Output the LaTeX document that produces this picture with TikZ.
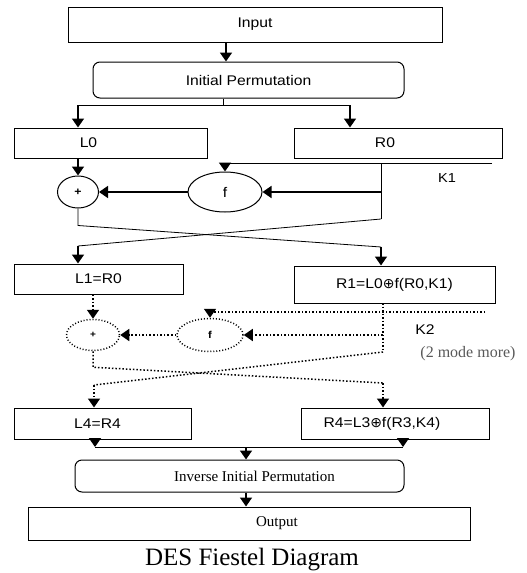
\documentclass[tikz,border=0pt]{standalone}
\usepackage{fontspec}
\setmainfont{Liberation Serif}
\setsansfont{Liberation Sans}[FakeStretch=1.12]
\newfontfamily\opfont{DejaVu Sans}
\usetikzlibrary{arrows.meta,shapes.geometric}
\tikzset{
  box/.style={draw,line width=1pt,inner sep=2pt,font=\sffamily\fontsize{14}{16}\selectfont},
  rbox/.style={box,rounded corners=7pt},
  oval/.style={draw,ellipse,line width=1pt,inner sep=0pt},
  dotoval/.style={oval,dotted,line width=1.5pt},
  arr/.style={line width=1.6pt,-{Triangle[width=12pt,length=9pt]}},
  darr/.style={arr,dotted},
  thinline/.style={line width=0.8pt},
  dotline/.style={line width=1.5pt,dotted}
}
\newcommand{\xorop}{{\opfont ⊕}}
\begin{document}
\begin{tikzpicture}[x=1pt,y=-1pt]
\useasboundingbox (0,0) rectangle (527,573);
\node[box,minimum width=374,minimum height=35] (in) at (255,24.5) {Input};
\node[rbox,minimum width=311,minimum height=36] (ip) at (248.5,80) {Initial Permutation};
\node[box,minimum width=193,minimum height=30] (L0) at (110.5,143) {L0\hspace*{44pt}};
\node[box,minimum width=208,minimum height=30] (R0) at (398,143) {R0\hspace*{26pt}};
\node[oval,minimum width=41,minimum height=32,font=\sffamily\bfseries\fontsize{11}{11}\selectfont] (x1) at (78,192) {+};
\node[oval,minimum width=74,minimum height=40,font=\sffamily\fontsize{14}{14}\selectfont] (f1) at (225,192) {f};
\node[font=\sffamily\fontsize{13}{13}\selectfont] (k1) at (447,178) {K1};

\node[box,minimum width=169,minimum height=30] (L1) at (98.5,279) {L1=R0};
\node[box,minimum width=201,minimum height=37] (R1) at (394.5,284.5) {R1=L0\xorop f(R0,K1)};
\node[dotoval,minimum width=53,minimum height=31,font=\sffamily\bfseries\fontsize{9}{9}\selectfont] (x2) at (93,335) {+};
\node[dotoval,minimum width=66,minimum height=33,font=\sffamily\bfseries\fontsize{10}{10}\selectfont] (f2) at (210,335) {f};
\node[font=\sffamily\fontsize{14}{14}\selectfont] (k2) at (425,330) {K2};
\node[font=\rmfamily\fontsize{16}{16}\selectfont,text=black!65] (more) at (468,354) {(2 mode more)};

\node[box,minimum width=177,minimum height=31] (L4) at (102.5,423.5) {L4=R4\hspace*{10pt}};
\node[box,minimum width=188,minimum height=31] (R4) at (395,423.5) {R4=L3\xorop f(R3,K4)\hspace*{26pt}};
\node[rbox,minimum width=329,minimum height=32,font=\rmfamily\fontsize{15}{16}\selectfont] (iip) at (239.5,476) {\hspace*{30pt}Inverse Initial Permutation};
\node[box,minimum width=442,minimum height=33,font=\rmfamily\fontsize{15}{16}\selectfont] (out) at (249,523.5) {\hspace*{56pt}Output};
\node[font=\rmfamily\fontsize{25}{25}\selectfont] (cap) at (252,560) {DES Fiestel Diagram};

\coordinate (sL) at (78,105);
\coordinate (sR) at (350,105);
\draw[arr] ([xshift=-29pt]in.south) -- ([xshift=-29pt]in.south |- ip.north);
\draw[thinline] ([xshift=-25.5pt]ip.south) -- ([xshift=-25.5pt]ip.south |- sL);
\draw[thinline] (sL) -- (sR);
\draw[arr] (sL) -- (sL |- L0.north);
\draw[arr] (sR) -- (sR |- R0.north);
\draw[arr] (x1 |- L0.south) -- (x1.north);

\coordinate (k1a) at (492,163);
\coordinate (r0a) at (381,163);
\coordinate (r0b) at (381,219);
\coordinate (c1) at (381,247);
\coordinate (c2) at (78,246);
\draw[thinline] (k1a) -- (f1.north |- k1a);
\draw[arr] (f1.north |- k1a) -- (f1.north);
\draw[thinline] (r0a) -- (r0b);
\draw[arr] (r0a |- f1) -- (f1.east);
\draw[arr] (f1.west) -- (x1.east);
\draw[thinline] (x1.south) -- ++(0,17) -- (c1);
\draw[thinline] (r0b) -- (c2);
\draw[arr] (c1) -- (c1 |- R1.north);
\draw[arr] (c2) -- (c2 |- L1.north);

\coordinate (k2a) at (485,312);
\coordinate (r1a) at (383,303);
\coordinate (r1b) at (383,352);
\coordinate (c3) at (383,383);
\coordinate (c4) at (94,385);
\draw[darr] (x2 |- L1.south) -- (x2.north);
\draw[dotline] (k2a) -- (f2.north |- k2a);
\draw[darr] (f2.north |- k2a) -- (f2.north);
\draw[dotline] (r1a) -- (r1b);
\draw[darr] (r1a |- f2) -- (f2.east);
\draw[darr] (f2.west) -- (x2.east);
\draw[dotline] (x2.south) -- ++(0,16) -- (c3);
\draw[dotline] (r1b) -- (c4);
\draw[darr] (c3) -- (c3 |- R4.north);
\draw[darr] (c4) -- (c4 |- L4.north);

\coordinate (jL) at (95,447);
\coordinate (jR) at (403,447);
\coordinate (jM) at (246,447);
\draw[thinline] (jL) -- (jR);
\draw[arr] (jL |- L4.south) -- (jL);
\draw[arr] (jR |- R4.south) -- (jR);
\draw[arr] (jM) -- (jM |- iip.north);
\draw[arr] (jM |- iip.south) -- (jM |- out.north);
\end{tikzpicture}
\end{document}
